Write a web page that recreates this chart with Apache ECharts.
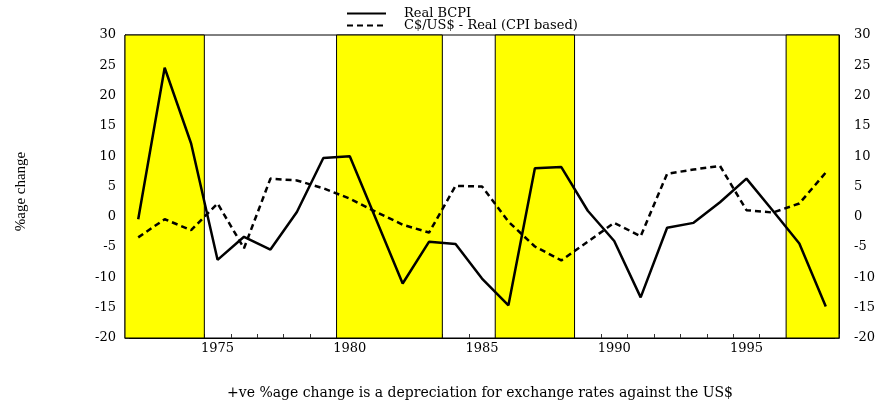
<!DOCTYPE html>
<html>
<head>
<meta charset="utf-8">
<script src="https://cdn.jsdelivr.net/npm/echarts@6/dist/echarts.min.js"></script>
<style>
	html, body { margin: 0; padding: 0; background: #fff; }
	#chart { width: 878px; height: 400px; }
</style>
</head>
<body>
<div id="chart"></div>
<script>
var years = ['1972', '1973', '1974', '1975', '1976', '1977', '1978', '1979', '1980', '1981',
	'1982', '1983', '1984', '1985', '1986', '1987', '1988', '1989', '1990', '1991',
	'1992', '1993', '1994', '1995', '1996', '1997', '1998'];
var realBcpi = [-0.4, 24.6, 12.1, -7.1, -3.3, -5.4, 0.8, 9.7, 10.0, -0.5,
	-11.0, -4.1, -4.5, -10.2, -14.6, 8.0, 8.2, 1.0, -4.0, -13.3,
	-1.8, -1.0, 2.4, 6.3, 1.0, -4.4, -14.8];
var realFx = [-3.4, -0.4, -2.2, 2.2, -5.2, 6.3, 6.0, 4.7, 3.0, 0.8,
	-1.3, -2.6, 5.1, 5.0, -0.8, -4.9, -7.2, -4.1, -1.0, -3.2,
	7.1, 7.8, 8.4, 1.1, 0.7, 2.2, 7.3];
// shaded periods, in years (edges sit between annual points)
var bands = [[1971.5, 1974.5], [1979.5, 1983.5], [1985.5, 1988.5], [1996.5, 1998.5]];
var yTicks = { min: -20, max: 30, step: 5 };

var serif = '"DejaVu Serif", "Liberation Serif", serif';

var chart = echarts.init(document.getElementById('chart'));

function yAxisCfg(pos, margin) {
	return {
		type: 'value',
		position: pos,
		min: yTicks.min,
		max: yTicks.max,
		interval: yTicks.step,
		axisLine: { show: true, lineStyle: { color: '#000', width: 1 } },
		axisTick: { show: true, inside: true, length: 4, lineStyle: { color: '#333' } },
		splitLine: { show: false },
		axisLabel: { color: '#000', fontFamily: serif, fontSize: 13, margin: margin }
	};
}

var yLeft = yAxisCfg('left', 9);
yLeft.name = '%age change';
yLeft.nameLocation = 'middle';
yLeft.nameGap = 96;
yLeft.nameTextStyle = { color: '#000', fontFamily: '"Liberation Serif", serif', fontSize: 15, padding: [0, 10, 0, 0] };

function legendCfg(name, top) {
	return {
		data: [name],
		left: 346,
		top: top,
		padding: 0,
		itemWidth: 39,
		itemHeight: 10,
		itemStyle: { opacity: 0 },
		textStyle: { color: '#000', fontFamily: serif, fontSize: 13, padding: [0, 0, 0, 13] }
	};
}

var option = {
	backgroundColor: '#fff',
	animation: false,
	legend: [legendCfg('Real BCPI', 7), legendCfg('C$/US$ - Real (CPI based)', 19)],
	grid: {
		left: 125,
		right: 39,
		top: 35,
		bottom: 62,
		show: true,
		backgroundColor: '#fff',
		borderColor: '#000',
		borderWidth: 1
	},
	xAxis: [{
		type: 'category',
		data: years,
		boundaryGap: true,
		axisLine: { show: true, onZero: false, lineStyle: { color: '#000', width: 1 } },
		axisTick: { show: true, inside: true, length: 4, interval: 0, lineStyle: { color: '#333' } },
		splitLine: { show: false },
		axisLabel: {
			color: '#000',
			fontFamily: serif,
			fontSize: 13,
			margin: 4,
			interval: function(index, value) {
				return Number(value) % 5 === 0;
			}
		}
	}, {
		type: 'value',
		min: 1971.5,
		max: 1998.5,
		show: false
	}],
	yAxis: [yLeft, yAxisCfg('right', 15)],
	graphic: [{
		type: 'text',
		x: 480,
		y: 393,
		style: {
			text: '+ve %age change is a depreciation for exchange rates against the US$',
			font: '14px ' + serif,
			fill: '#000',
			align: 'center',
			verticalAlign: 'middle'
		}
	}],
	series: [{
		name: 'bands',
		type: 'line',
		xAxisIndex: 1,
		yAxisIndex: 0,
		data: [],
		silent: true,
		markArea: {
			silent: true,
			itemStyle: { color: '#ffff00', borderColor: '#000', borderWidth: 1 },
			data: bands.map(function(b) {
				return [{ xAxis: b[0] }, { xAxis: b[1] }];
			})
		}
	}, {
		name: 'Real BCPI',
		type: 'line',
		data: realBcpi,
		symbol: 'none',
		z: 5,
		lineStyle: { color: '#000', width: 2.5, type: 'solid' },
		itemStyle: { color: '#000' }
	}, {
		name: 'C$/US$ - Real (CPI based)',
		type: 'line',
		data: realFx,
		symbol: 'none',
		z: 5,
		lineStyle: { color: '#000', width: 2.5, type: [6, 4] },
		itemStyle: { color: '#000' }
	}]
};

chart.setOption(option);
</script>
</body>
</html>
